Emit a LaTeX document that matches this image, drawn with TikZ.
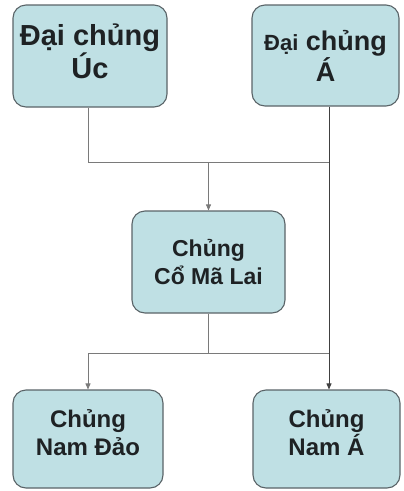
\documentclass[tikz,border=0pt]{standalone}
\usepackage{fontspec}
\setmainfont{Liberation Sans}
\usetikzlibrary{arrows.meta}
\definecolor{boxfill}{HTML}{BFE0E4}
\definecolor{boxline}{HTML}{5A6468}
\definecolor{conn}{HTML}{7A7A7A}
\definecolor{txt}{HTML}{1E2224}
\tikzset{
  kbox/.style={draw=boxline, line width=1.1pt, fill=boxfill, rounded corners=13pt,
    inner sep=0pt, align=center, text=txt, font=\bfseries},
  conline/.style={draw=conn, line width=0.8pt},
  conarrow/.style={conline, -{Triangle[length=6pt,width=5pt]}},
}
\begin{document}
\begin{tikzpicture}[x=1pt,y=-1pt]
\useasboundingbox (0,0) rectangle (404,491);
\node[kbox, minimum width=154pt, minimum height=102pt, text depth=9pt, font=\bfseries\fontsize{29}{30}\selectfont] (uc) at (90,56) {Đại chủng\\Úc};
\node[kbox, minimum width=147pt, minimum height=101pt, font=\bfseries\fontsize{27}{31}\selectfont] (a) at (325.5,55.5) {{\fontsize{22}{31}\selectfont Đại} chủng\\Á};
\node[kbox, minimum width=153pt, minimum height=102pt, font=\bfseries\fontsize{23}{28}\selectfont] (cml) at (208.5,262) {Chủng\\Cổ Mã Lai};
\node[kbox, minimum width=150pt, minimum height=98pt, text depth=12pt, font=\bfseries\fontsize{24}{28}\selectfont] (nd) at (88,439) {Chủng\\Nam Đảo};
\node[kbox, minimum width=147pt, minimum height=98pt, text depth=12pt, font=\bfseries\fontsize{24}{28}\selectfont] (na) at (326.5,439) {Chủng\\Nam Á};
\coordinate (j1) at (88,162);
\coordinate (j2) at (329,162);
\coordinate (j3) at (208,353);
\coordinate (l4) at (88,353);
\coordinate (r4) at (329,353);
\draw[conline] (uc.south -| j1) -- (j1) -- (j2);
\draw[conarrow] (j1 -| cml.north) -- (cml.north);
\draw[conarrow, draw=black!75] (a.south -| j2) -- (na.north -| j2);
\draw[conline] (cml.south -| j3) -- (j3);
\draw[conline] (l4) -- (r4);
\draw[conarrow] (l4) -- (nd.north -| l4);
\end{tikzpicture}
\end{document}
